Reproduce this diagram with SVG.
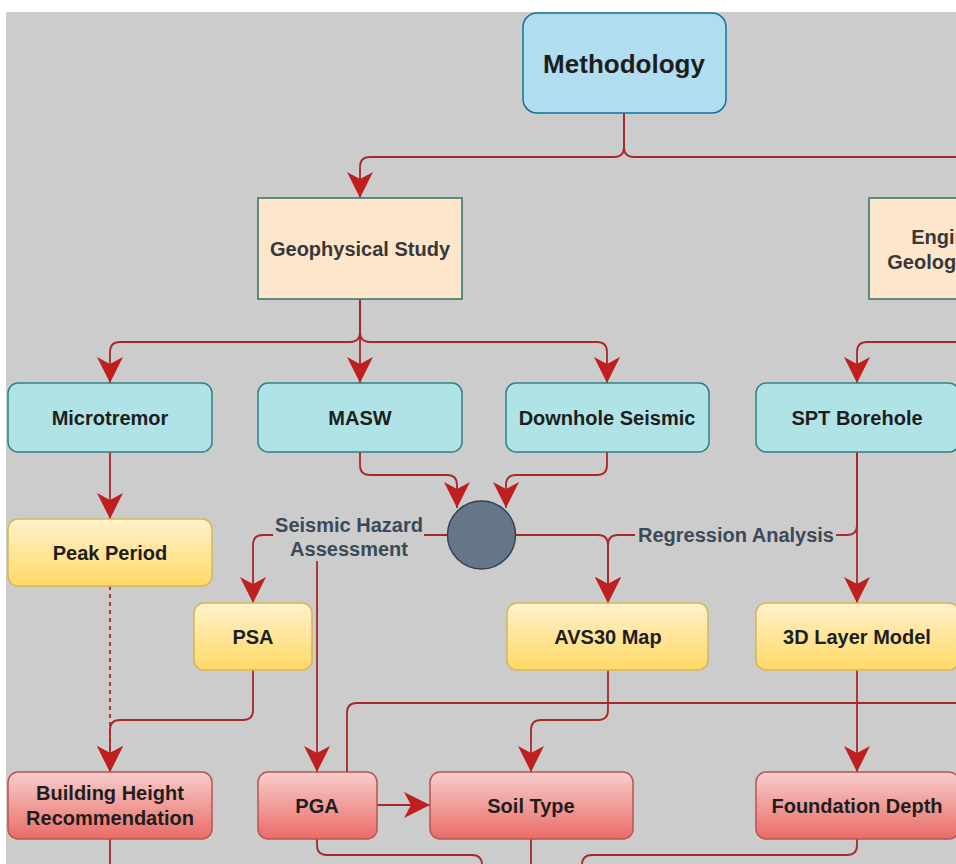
<svg xmlns="http://www.w3.org/2000/svg" width="956" height="864" viewBox="0 0 956 864">
<defs>
<style>
text{font-family:"Liberation Sans",Arial,Helvetica,sans-serif;font-weight:bold;font-size:20px;text-anchor:middle;fill:#1e1e1e}
.edge{fill:none;stroke:#a82828;stroke-width:1.8}
.dash{stroke-dasharray:4 4}
.cyan{fill:#b0e3e6;stroke:#2f8187;stroke-width:1.5}
.peach{fill:#fde6cc;stroke:#2f7068;stroke-width:1.5}
.yel{fill:url(#gy);stroke:#d6b656;stroke-width:1.5}
.red{fill:url(#gr);stroke:#b85450;stroke-width:1.5}
.lbl{fill:#3b4a58}
.soft{fill:#383838}
</style>
<linearGradient id="gy" x1="0" y1="0" x2="0" y2="1"><stop offset="0" stop-color="#fff2cc"/><stop offset="1" stop-color="#ffd966"/></linearGradient>
<linearGradient id="gr" x1="0" y1="0" x2="0" y2="1"><stop offset="0" stop-color="#f8cecc"/><stop offset="1" stop-color="#ea6b66"/></linearGradient>
<marker id="ar" markerUnits="userSpaceOnUse" viewBox="0 0 26 26" refX="26" refY="13" markerWidth="26" markerHeight="26" orient="auto">
<path d="M26,13 L0,0 L7,13 L0,26 Z" fill="#bf1f1f"/>
</marker>
</defs>
<rect x="0" y="0" width="956" height="864" fill="#ffffff"/>
<rect x="6" y="12" width="950" height="852" fill="#cccccc"/>

<g id="connectors">
<path class="edge" d="M624,113 V147 Q624,157 614,157 H370 Q360,157 360,167 V198" marker-end="url(#ar)"/>
<path class="edge" d="M624,113 V147 Q624,157 634,157 H956"/>
<path class="edge" d="M360,299 V383" marker-end="url(#ar)"/>
<path class="edge" d="M360,299 V332 Q360,342 350,342 H120 Q110,342 110,352 V383" marker-end="url(#ar)"/>
<path class="edge" d="M360,299 V332 Q360,342 370,342 H597 Q607,342 607,352 V383" marker-end="url(#ar)"/>
<path class="edge" d="M960,342 H867 Q857,342 857,352 V383" marker-end="url(#ar)"/>
<path class="edge" d="M110,452 V519" marker-end="url(#ar)"/>
<path class="edge" d="M360,452 V465 Q360,475 370,475 H447 Q457,475 457,485 V508" marker-end="url(#ar)"/>
<path class="edge" d="M607,452 V465 Q607,475 597,475 H516 Q506,475 506,485 V508" marker-end="url(#ar)"/>
<path class="edge" d="M448,535 H263 Q253,535 253,545 V603" marker-end="url(#ar)"/>
<path class="edge" d="M448,535 H327 Q317,535 317,545 V772" marker-end="url(#ar)"/>
<path class="edge" d="M515,535 H598 Q608,535 608,545 V603" marker-end="url(#ar)"/>
<path class="edge" d="M857,452 V525 Q857,535 847,535 H618 Q608,535 608,545 V603" marker-end="url(#ar)"/>
<path class="edge" d="M857,452 V603" marker-end="url(#ar)"/>
<path class="edge dash" d="M110,586 V772" marker-end="url(#ar)"/>
<path class="edge" d="M253,670 V710 Q253,720 243,720 H120 Q110,720 110,730 V772" marker-end="url(#ar)"/>
<path class="edge" d="M608,670 V710 Q608,720 598,720 H541 Q531,720 531,730 V772" marker-end="url(#ar)"/>
<path class="edge" d="M347,772 V713 Q347,703 357,703 H960"/>
<path class="edge" d="M857,670 V772" marker-end="url(#ar)"/>
<path class="edge" d="M377,805 H430" marker-end="url(#ar)"/>
<path class="edge" d="M110,839 V870"/>
<path class="edge" d="M317,839 V845 Q317,855 327,855 H472 Q482,855 482,865 V870"/>
<path class="edge" d="M531,839 V870"/>
<path class="edge" d="M857,839 V845 Q857,855 847,855 H592 Q582,855 582,865 V870"/>
<rect x="273" y="512" width="151" height="49" fill="#cccccc"/>
<text class="lbl" x="349" y="532">Seismic Hazard</text>
<text class="lbl" x="349" y="556">Assessment</text>
<rect x="635" y="524" width="201" height="24" fill="#cccccc"/>
<text class="lbl" x="736" y="542">Regression Analysis</text>
</g>

<g id="methodology">
<rect x="523" y="13" width="203" height="100" rx="14" fill="#b1ddf0" stroke="#10739e" stroke-width="1.5"/>
<text x="624" y="73" style="font-size:26px" fill="#111">Methodology</text>
</g>
<g id="geophysical-study">
<rect class="peach" x="258" y="198" width="204" height="101"/>
<text class="soft" x="360" y="256">Geophysical Study</text>
</g>
<g id="engineering-geological-study">
<rect class="peach" x="869" y="198" width="204" height="101"/>
<text class="soft" x="969" y="244">Engineering</text>
<text class="soft" x="969" y="269">Geological Study</text>
</g>
<g id="microtremor">
<rect class="cyan" x="8" y="383" width="204" height="69" rx="10"/>
<text x="110" y="424.5">Microtremor</text>
</g>
<g id="masw">
<rect class="cyan" x="258" y="383" width="204" height="69" rx="10"/>
<text x="360" y="424.5">MASW</text>
</g>
<g id="downhole-seismic">
<rect class="cyan" x="506" y="383" width="203" height="69" rx="10"/>
<text x="607" y="424.5">Downhole Seismic</text>
</g>
<g id="spt-borehole">
<rect class="cyan" x="756" y="383" width="203" height="69" rx="10"/>
<text x="857" y="424.5">SPT Borehole</text>
</g>
<g id="junction">
<circle cx="481.5" cy="535" r="34" fill="#647687" stroke="#314354" stroke-width="1.5"/>
</g>
<g id="peak-period">
<rect class="yel" x="8" y="519" width="204" height="67" rx="10"/>
<text x="110" y="559.5">Peak Period</text>
</g>
<g id="psa">
<rect class="yel" x="194" y="603" width="118" height="67" rx="10"/>
<text x="253" y="643.5">PSA</text>
</g>
<g id="avs30-map">
<rect class="yel" x="507" y="603" width="201" height="67" rx="10"/>
<text x="608" y="643.5">AVS30 Map</text>
</g>
<g id="layer-model-3d">
<rect class="yel" x="756" y="603" width="203" height="67" rx="10"/>
<text x="857" y="643.5">3D Layer Model</text>
</g>
<g id="building-height">
<rect class="red" x="8" y="772" width="204" height="67" rx="10"/>
<text x="110" y="800">Building Height</text>
<text x="110" y="825">Recommendation</text>
</g>
<g id="pga">
<rect class="red" x="258" y="772" width="119" height="67" rx="10"/>
<text x="317" y="812.5">PGA</text>
</g>
<g id="soil-type">
<rect class="red" x="430" y="772" width="203" height="67" rx="10"/>
<text x="531" y="812.5">Soil Type</text>
</g>
<g id="foundation-depth">
<rect class="red" x="756" y="772" width="203" height="67" rx="10"/>
<text x="857" y="812.5">Foundation Depth</text>
</g>
</svg>
